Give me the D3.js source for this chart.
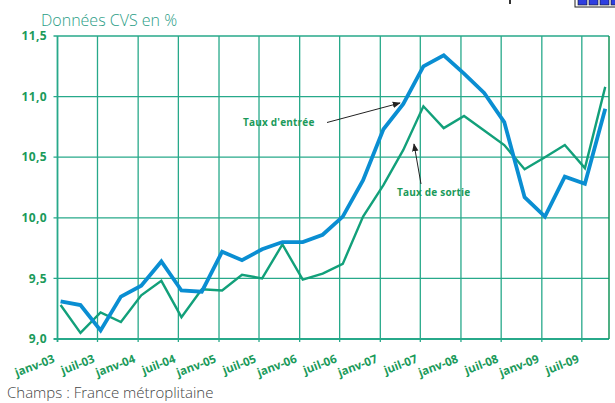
<!DOCTYPE html>
<html>
<head>
<meta charset="utf-8">
<script src="https://cdn.jsdelivr.net/npm/d3@7"></script>
<style>
  html, body { margin: 0; padding: 0; background: #fff; }
  svg { display: block; }
</style>
</head>
<body>
<div id="chart"></div>
<script>
'use strict';

// quarterly points (dated mid first month of each quarter)
const quarters = [
  "2003-01-15", "2003-04-15", "2003-07-15", "2003-10-15",
  "2004-01-15", "2004-04-15", "2004-07-15", "2004-10-15",
  "2005-01-15", "2005-04-15", "2005-07-15", "2005-10-15",
  "2006-01-15", "2006-04-15", "2006-07-15", "2006-10-15",
  "2007-01-15", "2007-04-15", "2007-07-15", "2007-10-15",
  "2008-01-15", "2008-04-15", "2008-07-15", "2008-10-15",
  "2009-01-15", "2009-04-15", "2009-07-15", "2009-10-15"
];

const tauxEntree = [
  9.31, 9.28, 9.07, 9.35, 9.44, 9.64, 9.40, 9.39,
  9.72, 9.65, 9.74, 9.80, 9.80, 9.86, 10.01, 10.31,
  10.73, 10.94, 11.25, 11.34, 11.19, 11.03, 10.79, 10.17,
  10.01, 10.34, 10.28, 10.90
];

const tauxSortie = [
  9.28, 9.05, 9.22, 9.14, 9.36, 9.48, 9.18, 9.41,
  9.40, 9.53, 9.50, 9.78, 9.49, 9.54, 9.62, 10.01,
  10.27, 10.56, 10.92, 10.74, 10.84, 10.72, 10.60, 10.40,
  10.50, 10.60, 10.41, 11.08
];

const xTickLabels = [
  "janv-03", "juil-03", "janv-04", "juil-04", "janv-05", "juil-05", "janv-06",
  "juil-06", "janv-07", "juil-07", "janv-08", "juil-08", "janv-09", "juil-09"
];

const yTicks = [9.0, 9.5, 10.0, 10.5, 11.0, 11.5];

const width = 615;
const height = 403;

const green = "#1a9a5a";
const gridColor = "#27a98a";
const blue = "#0a8ed2";
const lineGreen = "#12a07a";

const parse = d3.timeParse("%Y-%m-%d");
const monthIdx = { "janv": 0, "juil": 6 };
const tickDate = s => {
  const [m, y] = s.split("-");
  return new Date(2000 + +y, monthIdx[m], 1);
};

const frLocale = d3.formatLocale({ decimal: ",", thousands: " ", grouping: [3], currency: ["", " €"] });
const fmt = frLocale.format(".1f");

const x = d3.scaleTime()
  .domain([new Date(2003, 0, 1), new Date(2009, 10, 1)])
  .range([57.5, 609]);

const y = d3.scaleLinear()
  .domain([9, 11.5])
  .range([339, 36]);

const svg = d3.select("#chart").append("svg")
  .attr("width", width)
  .attr("height", height)
  .style("font-family", "'Open Sans', 'DejaVu Sans', sans-serif");

// title
svg.append("text")
  .attr("x", 41)
  .attr("y", 26)
  .attr("fill", "#2a9d86")
  .attr("font-size", 16)
  .attr("font-weight", 300)
  .text("Données CVS en %");

// horizontal grid
svg.append("g")
  .selectAll("line")
  .data(yTicks)
  .join("line")
  .attr("x1", x.range()[0] - 4)
  .attr("x2", x.range()[1])
  .attr("y1", d => y(d))
  .attr("y2", d => y(d))
  .attr("stroke", gridColor)
  .attr("stroke-width", d => d === 9 ? 1.8 : 1.3);

// vertical grid
const tickDates = xTickLabels.map(tickDate);
svg.append("g")
  .selectAll("line")
  .data(tickDates)
  .join("line")
  .attr("x1", d => x(d))
  .attr("x2", d => x(d))
  .attr("y1", y(11.5))
  .attr("y2", y(9) + 3)
  .attr("stroke", gridColor)
  .attr("stroke-width", (d, i) => i === 0 ? 1.8 : 1.3);

// right border
svg.append("line")
  .attr("x1", x.range()[1])
  .attr("x2", x.range()[1])
  .attr("y1", y(11.5))
  .attr("y2", y(9))
  .attr("stroke", "#15955a")
  .attr("stroke-width", 1.5);

// y labels
svg.append("g")
  .selectAll("text")
  .data(yTicks)
  .join("text")
  .attr("x", 47)
  .attr("y", d => y(d))
  .attr("dy", "0.35em")
  .attr("text-anchor", "end")
  .attr("fill", green)
  .attr("font-size", 12)
  .attr("font-weight", 700)
  .attr("letter-spacing", 0.4)
  .text(d => fmt(d));

// x labels
svg.append("g")
  .selectAll("text")
  .data(xTickLabels)
  .join("text")
  .attr("transform", d => `translate(${x(tickDate(d)) - 2},${y(9) + 23}) rotate(-21)`)
  .attr("text-anchor", "end")
  .attr("fill", green)
  .attr("font-size", 11.5)
  .attr("font-weight", 700)
  .text(d => d);

// series
const dates = quarters.map(parse);
const line = d3.line()
  .x((d, i) => x(dates[i]))
  .y(d => y(d));

svg.append("path")
  .attr("d", line(tauxSortie))
  .attr("fill", "none")
  .attr("stroke", lineGreen)
  .attr("stroke-width", 2.4)
  .attr("stroke-linejoin", "miter");

svg.append("path")
  .attr("d", line(tauxEntree))
  .attr("fill", "none")
  .attr("stroke", blue)
  .attr("stroke-width", 3.8)
  .attr("stroke-linejoin", "miter");

// annotations
const defs = svg.append("defs");
defs.append("marker")
  .attr("id", "arrow")
  .attr("viewBox", "0 0 10 10")
  .attr("refX", 9)
  .attr("refY", 5)
  .attr("markerWidth", 8)
  .attr("markerHeight", 8)
  .attr("markerUnits", "userSpaceOnUse")
  .attr("orient", "auto")
  .append("path")
  .attr("d", "M0,1 L10,5 L0,9 Z")
  .attr("fill", "#222");

svg.append("text")
  .attr("x", 243)
  .attr("y", 126)
  .attr("fill", green)
  .attr("font-size", 10)
  .attr("font-weight", 700)
  .attr("letter-spacing", 0.2)
  .text("Taux d'entrée");

svg.append("line")
  .attr("x1", 327).attr("y1", 122.5)
  .attr("x2", 400).attr("y2", 103)
  .attr("stroke", "#222")
  .attr("stroke-width", 1)
  .attr("marker-end", "url(#arrow)");

svg.append("text")
  .attr("x", 397)
  .attr("y", 195.5)
  .attr("fill", green)
  .attr("font-size", 10)
  .attr("font-weight", 700)
  .attr("letter-spacing", 0.2)
  .text("Taux de sortie");

svg.append("line")
  .attr("x1", 421).attr("y1", 184)
  .attr("x2", 414).attr("y2", 144)
  .attr("stroke", "#222")
  .attr("stroke-width", 1)
  .attr("marker-end", "url(#arrow)");

// footer
svg.append("text")
  .attr("x", 7)
  .attr("y", 398)
  .attr("fill", "#444")
  .attr("font-size", 15)
  .attr("font-weight", 300)
  .text("Champs : France métroplitaine");

// clipped decoration at top right
const deco = svg.append("g");
deco.append("rect")
  .attr("x", 575).attr("y", -4)
  .attr("width", 44).attr("height", 11)
  .attr("fill", "#fff")
  .attr("stroke", "#222")
  .attr("stroke-width", 1);
deco.selectAll("rect.sq")
  .data([0, 1, 2, 3])
  .join("rect")
  .attr("class", "sq")
  .attr("x", d => 578 + d * 11)
  .attr("y", -3)
  .attr("width", 9).attr("height", 8)
  .attr("fill", "#2f3fe0")
  .attr("stroke", "#111")
  .attr("stroke-width", 0.6);
deco.append("rect")
  .attr("x", 509).attr("y", 0)
  .attr("width", 2).attr("height", 4)
  .attr("fill", "#333");
</script>
</body>
</html>
